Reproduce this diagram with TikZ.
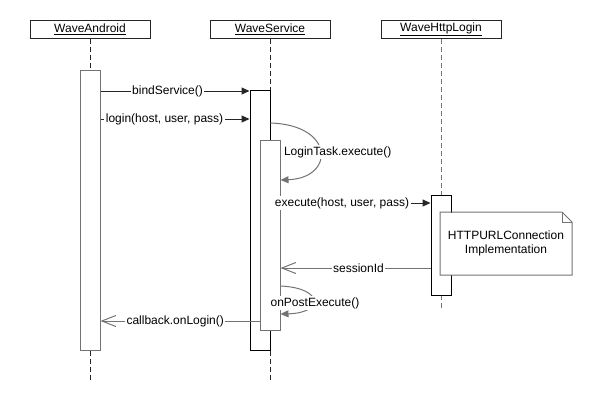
\documentclass[tikz,border=0pt]{standalone}
\usepackage{fontspec}
\setmainfont{Liberation Sans}
\usepackage{tikz}
\usetikzlibrary{calc,arrows.meta,positioning}
\colorlet{lineA}{black!55}
\colorlet{lineB}{black!85}

\begin{document}
\begin{tikzpicture}[x=1pt,y=-1pt,line width=1pt,
    objbox/.style={draw=lineB, fill=white, minimum width=120pt, minimum height=18pt, inner sep=0pt},
    actbox/.style={draw, fill=white, minimum width=20pt, inner sep=0pt},
    lifeline/.style={draw=lineB, dash pattern=on 5pt off 3pt},
    msg/.style={draw=lineB, -{Triangle[length=8pt,width=7pt]}},
    reply/.style={draw=lineA, -{Straight Barb[length=14pt,width=11pt]}},
    msglabel/.style={fill=white, inner sep=1.5pt},
    every node/.style={font=\fontsize{12}{14}\selectfont}]
      \useasboundingbox (0,0) rectangle (590,400);

      % Objects
      \node[objbox] (wa) at (90,29)  {\underline{WaveAndroid}};
      \node[objbox] (ws) at (270,29) {\underline{WaveService}};
      \node[objbox] (wh) at (441,29) {\underline{WaveHttpLogin}};

      % Lifelines (the activations are drawn over them)
      \coordinate (waEnd) at (90,380);
      \coordinate (wsEnd) at (270,380);
      \coordinate (whEnd) at (441,310);
      \draw[lifeline] (wa.south) -- (waEnd);
      \draw[lifeline] (ws.south) -- (wsEnd);
      \draw[lifeline, draw=lineA] (wh.south) -- (whEnd);

      % Activations
      \node[actbox, draw=lineA, anchor=north, minimum height=280pt] (waAct) at (90,70) {};
      \node[actbox, anchor=north, minimum height=260pt] (wsAct) at (260,90) {};
      \node[actbox, draw=lineA, anchor=north, minimum height=190pt] (wsSub) at (270,140) {};
      \node[actbox, anchor=north, minimum height=100pt] (whAct) at (441,195) {};

      % Calls
      \draw[msg] (waAct.east |- 0,91) -- (wsAct.west |- 0,91)
        node[msglabel, pos=0.45] (bind) {bindService()};
      \draw[msg] (waAct.east |- 0,119) -- (wsAct.west |- 0,119)
        node[msglabel, pos=0.43] (login) {login(host, user, pass)};

      % LoginTask.execute() self call
      \draw[msg, draw=lineA] (wsAct.east |- 0,123) .. controls (335,125) and (335,178) .. (wsSub.east |- 0,180);
      \node[msglabel, anchor=west] (task) at (282,152) {LoginTask.execute()};

      \draw[msg] (wsSub.east |- 0,203) -- (whAct.west |- 0,203)
        node[msglabel, pos=0.41] (exec) {execute(host, user, pass)};

      % Note on WaveHttpLogin
      \node[fill=white, minimum width=131pt, minimum height=62pt, inner sep=0pt, align=center,
        anchor=north west] (impl) at (440,212) {HTTPURLConnection\\Implementation};
      \draw[lineA] (impl.south west) -- (impl.north west) -- ($(impl.north east)+(-10,0)$)
        -- ($(impl.north east)+(0,10)$) -- (impl.south east) -- cycle;
      \draw[lineA] ($(impl.north east)+(-10,0)$) -- ($(impl.north east)+(-10,10)$) -- ($(impl.north east)+(0,10)$);

      % Returns
      \draw[reply] (whAct.west |- 0,268) -- (wsSub.east |- 0,268)
        node[msglabel, pos=0.48] (sid) {sessionId};

      % onPostExecute() self call
      \draw[msg, draw=lineA] (wsSub.east |- 0,286) .. controls (324,288) and (324,313) .. (wsSub.east |- 0,314);
      \node[msglabel] (post) at (315,303) {onPostExecute()};

      \draw[reply] (wsSub.west |- 0,321) -- (waAct.east |- 0,321)
        node[msglabel, pos=0.53] (cb) {callback.onLogin()};
    \end{tikzpicture}
\end{document}
